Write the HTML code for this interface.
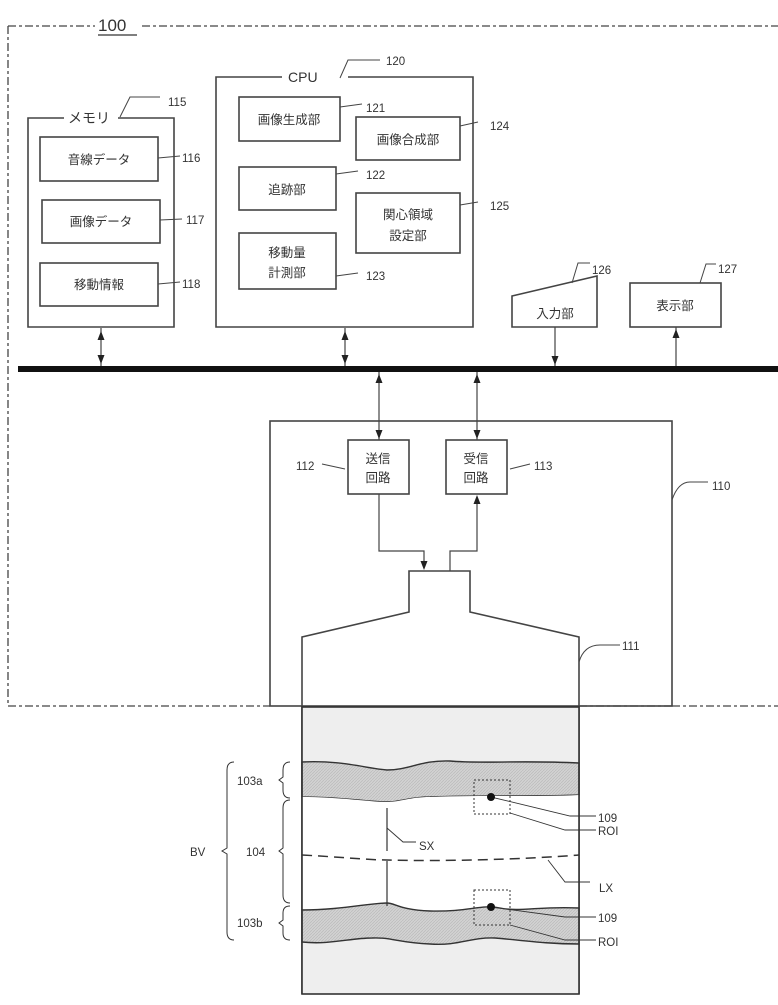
<!DOCTYPE html>
<html><head><meta charset="utf-8"><style>body{margin:0;background:#fff}svg{display:block}text{font-family:"Liberation Sans","Noto Sans CJK JP",sans-serif;fill:#333}</style></head><body>
<svg width="778" height="1005" viewBox="0 0 778 1005" xmlns="http://www.w3.org/2000/svg">
<defs><pattern id="h" width="3" height="3" patternUnits="userSpaceOnUse"><rect width="3" height="3" fill="#d2d2d2"/><path d="M0 3L3 0" stroke="#bbb" stroke-width="0.7"/></pattern></defs>
<g fill="none" stroke="#444" stroke-width="1.6">
<path d="M8 26H95M142 26H778M8 26V706H270M672 706H778M579 706H672" stroke-dasharray="8,3,3,3" stroke-width="1.3"/>
<path d="M64 118H28V327H174V118H118"/>
<rect x="40" y="137" width="118" height="44"/><rect x="42" y="200" width="118" height="43"/><rect x="40" y="263" width="118" height="43"/>
<path d="M120 117L130 97H160M158 158L180 156M160 220L182 219M158 284L180 282" stroke-width="1"/>
<path d="M282 77H216V327H473V77H348"/>
<rect x="239" y="97" width="101" height="44"/><rect x="356" y="117" width="104" height="43"/><rect x="239" y="167" width="97" height="43"/><rect x="356" y="193" width="104" height="60"/><rect x="239" y="233" width="97" height="56"/>
<path d="M340 78L348 60H380M340 107L362 104M460 126L478 122M336 174L358 171M460 205L478 202M336 276L358 273" stroke-width="1"/>
<path d="M512 296L597 276V327H512Z"/><rect x="630" y="283" width="91" height="44"/>
<path d="M572 283L578 263H590M700 283L706 264H716" stroke-width="1"/>
<path d="M101 328V366M345 328V366M379 372V440M477 372V440M555 327V366M676 372V327" stroke-width="1.2"/>
<rect x="270" y="421" width="402" height="285"/>
<rect x="348" y="440" width="61" height="54"/><rect x="446" y="440" width="61" height="54"/>
<path d="M379 494V551H424V566" stroke-width="1.2"/>
<path d="M450 571V551H477V500" stroke-width="1.2"/>
<path d="M302 994V637L409 612V571H470V612L579 637V994"/>
<path d="M672 500Q678 482 690 482H708M579 662Q584 645 600 645H620M322 464L345 469M510 469L530 464" stroke-width="1"/>
</g>
<g fill="#222">
<path d="M101 331l-3.5 9h7zM101 364l-3.5-9h7zM345 331l-3.5 9h7zM345 364l-3.5-9h7zM379 374l-3.5 9h7zM379 439l-3.5-9h7zM477 374l-3.5 9h7zM477 439l-3.5-9h7zM555 365l-3.5-9h7zM676 329l-3.5 9h7zM424 570l-3.5-9h7zM477 495l-3.5 9h7z"/>
</g>
<rect x="18" y="366" width="760" height="6" fill="#111"/>
<rect x="302" y="707" width="277" height="287" fill="#eeeeee"/>
<path d="M302 762C340 760 365 768 387 770C410 770 420 760 450 761C480 764 520 760 579 763V795C540 797 480 795 430 797C410 797 400 802 387 802C370 802 340 797 302 797Z" fill="url(#h)" stroke="#333" stroke-width="1.4"/>
<path d="M302 797C340 797 370 802 387 802C400 802 410 797 430 797C480 795 540 797 579 795V908C540 906 520 912 500 908C480 904 470 912 430 911C400 910 395 903 387 903C370 903 340 910 302 910Z" fill="#fff"/>
<path d="M302 910C340 910 370 903 387 903C395 903 400 910 430 911C470 912 480 904 500 908C520 912 540 906 579 908V944C545 944 520 940 495 938C470 937 460 946 430 944C400 943 390 937 372 938C350 938 330 945 302 942Z" fill="url(#h)" stroke="#333" stroke-width="1.4"/>
<rect x="302" y="707" width="277" height="287" fill="none" stroke="#333" stroke-width="1.6"/>
<g fill="none" stroke="#333">
<rect x="474" y="780" width="36" height="34" stroke-dasharray="2,2"/><rect x="474" y="890" width="36" height="35" stroke-dasharray="2,2"/>
<path d="M387 808V851M387 861V906" stroke-width="1.2"/>
<path d="M302 855C340 857 370 860 387 860C420 861 500 861 579 855" stroke-dasharray="10,6" stroke-width="1.5"/>
<path d="M491 797L570 816H596M510 813L565 830H596M387 828L403 842H416M548 860L565 882H590M491 907L565 917H596M510 925L565 940H596" stroke-width="0.9"/>
<path d="M290 762Q283 762 283 770V777L279 780L283 783V790Q283 798 290 798M290 800Q283 800 283 808V848L279 851L283 854V895Q283 903 290 903M290 906Q283 906 283 913V920L279 923L283 926V933Q283 940 290 940M234 762Q227 762 227 770V848L222 851L227 854V932Q227 940 234 940" stroke-width="1"/>
</g>
<circle cx="491" cy="797" r="4" fill="#111"/><circle cx="491" cy="907" r="4" fill="#111"/>
<g font-size="12.5">
<text x="98" y="31" font-size="17">100</text><path d="M98 35H137" stroke="#333" stroke-width="1.2"/>
<text x="68" y="123" font-size="14">メモリ</text><text x="288" y="82" font-size="14">CPU</text>
<text x="99" y="164" text-anchor="middle">音線データ</text><text x="101" y="226" text-anchor="middle">画像データ</text><text x="99" y="289" text-anchor="middle">移動情報</text>
<text x="289" y="124" text-anchor="middle">画像生成部</text><text x="408" y="144" text-anchor="middle">画像合成部</text><text x="287" y="194" text-anchor="middle">追跡部</text>
<text x="408" y="219" text-anchor="middle">関心領域</text><text x="408" y="240" text-anchor="middle">設定部</text>
<text x="287" y="257" text-anchor="middle">移動量</text><text x="287" y="277" text-anchor="middle">計測部</text>
<text x="555" y="318" text-anchor="middle">入力部</text><text x="675" y="310" text-anchor="middle">表示部</text>
<text x="378" y="463" text-anchor="middle">送信</text><text x="378" y="482" text-anchor="middle">回路</text>
<text x="476" y="463" text-anchor="middle">受信</text><text x="476" y="482" text-anchor="middle">回路</text>
</g>
<g font-size="11.5">
<text x="168" y="106">115</text><text x="182" y="162">116</text><text x="186" y="224">117</text><text x="182" y="288">118</text>
<text x="386" y="65">120</text><text x="366" y="112">121</text><text x="366" y="179">122</text><text x="366" y="280">123</text><text x="490" y="130">124</text><text x="490" y="210">125</text>
<text x="592" y="274">126</text><text x="718" y="273">127</text>
<text x="296" y="470">112</text><text x="534" y="470">113</text><text x="712" y="490">110</text><text x="622" y="650">111</text>
<text x="237" y="785">103a</text><text x="246" y="856">104</text><text x="237" y="927">103b</text><text x="190" y="856">BV</text>
<text x="419" y="850">SX</text><text x="598" y="822">109</text><text x="598" y="835">ROI</text><text x="599" y="892">LX</text><text x="598" y="922">109</text><text x="598" y="946">ROI</text>
</g>
</svg>
</body></html>
